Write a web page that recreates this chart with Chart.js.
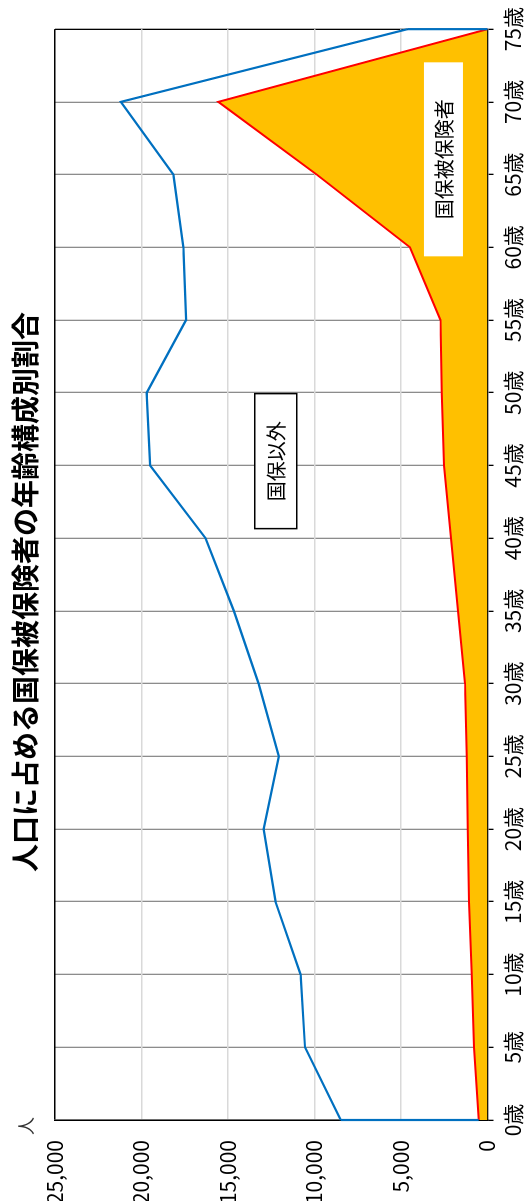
<!DOCTYPE html>
<html lang="ja">
<head>
<meta charset="utf-8">
<title>人口に占める国保被保険者の年齢構成別割合</title>
<script src="https://cdn.jsdelivr.net/npm/chart.js@4.4.1/dist/chart.umd.min.js"></script>
<style>
  html, body { margin: 0; padding: 0; overflow: hidden; background: #fff; }
  /* the chart is laid out landscape, then turned a quarter turn to the left */
  #wrap {
    position: absolute; left: 0; top: 0;
    width: 1201px; height: 526px;
    transform-origin: 0 0;
    transform: translateY(1201px) rotate(-90deg);
  }
</style>
</head>
<body>
<div id="wrap"><canvas id="popChart" width="1201" height="526"></canvas></div>
<script>
const ages = ['0歳', '5歳', '10歳', '15歳', '20歳', '25歳', '30歳', '35歳',
              '40歳', '45歳', '50歳', '55歳', '60歳', '65歳', '70歳', '75歳'];

// 国保被保険者 (orange area, red outline)
const kokuho = [509, 780, 913, 1069, 1145, 1202, 1300, 1700,
                2110, 2514, 2647, 2715, 4480, 9870, 15560, 0];

// top edge of the 国保以外 band (blue line)
const kokuhoIgaiTop = [8485, 10550, 10800, 12250, 12945, 12060, 13230, 14660,
                       16300, 19500, 19700, 17426, 17580, 18160, 21200, 4630];

const yTicks = [0, 5000, 10000, 15000, 20000, 25000];

// in-plot labels: text, position on the age axis (index), position on the value axis
const labelTexts = ['国保以外', '国保被保険者'];
const labelAt = [9.06, 13.21];
const labelValue = [12240, 2546];

const FONT = "'Noto Sans CJK JP', 'Noto Sans', sans-serif";
const BLUE = '#0070C0';

const decor = {
    id: 'decor',
    afterDatasetsDraw(chart) {
        const { ctx, scales: { x, y } } = chart;
        const last = ages.length - 1;

        // the 国保以外 band is outlined at both ends too
        ctx.save();
        ctx.strokeStyle = BLUE;
        ctx.lineWidth = 2.2;
        [0, last].forEach(i => {
            const px = x.getPixelForValue(i);
            ctx.beginPath();
            ctx.moveTo(px, y.getPixelForValue(kokuhoIgaiTop[i]));
            ctx.lineTo(px, y.getPixelForValue(kokuho[i]));
            ctx.stroke();
        });
        ctx.restore();

        // label boxes
        const boxes = [
            { w: 135, h: 42, border: true },
            { w: 194, h: 39, border: false }
        ];
        ctx.save();
        ctx.font = '20px ' + FONT;
        ctx.textAlign = 'center';
        ctx.textBaseline = 'middle';
        labelTexts.forEach((t, i) => {
            const cx = x.getPixelForValue(labelAt[i]);
            const cy = y.getPixelForValue(labelValue[i]);
            const b = boxes[i];
            ctx.fillStyle = '#fff';
            ctx.fillRect(cx - b.w / 2, cy - b.h / 2, b.w, b.h);
            if (b.border) {
                ctx.strokeStyle = '#000';
                ctx.lineWidth = 1.5;
                ctx.strokeRect(cx - b.w / 2, cy - b.h / 2, b.w, b.h);
            }
            ctx.fillStyle = '#000';
            ctx.fillText(t, cx, cy + 1);
        });
        ctx.restore();
    },
    afterDraw(chart) {
        const { ctx } = chart;
        ctx.save();
        ctx.fillStyle = '#000';
        ctx.textAlign = 'center';
        ctx.textBaseline = 'middle';
        ctx.font = 'bold 28px ' + FONT;
        ctx.fillText('人口に占める国保被保険者の年齢構成別割合', 609, 25);
        ctx.fillStyle = '#333';
        ctx.font = '18px ' + FONT;
        ctx.fillText('人', 75, 26);
        ctx.restore();
    }
};

new Chart(document.getElementById('popChart'), {
    type: 'line',
    data: {
        labels: ages,
        datasets: [
            {
                label: '国保被保険者',
                data: kokuho,
                borderColor: '#FF0000',
                backgroundColor: '#FFC000',
                borderWidth: 2,
                fill: 'origin',
                pointRadius: 0,
                tension: 0
            },
            {
                label: '国保以外',
                data: kokuhoIgaiTop,
                borderColor: BLUE,
                borderWidth: 2.2,
                fill: false,
                pointRadius: 0,
                tension: 0
            }
        ]
    },
    options: {
        responsive: false,
        animation: false,
        layout: { padding: { top: 55, right: 28, left: 0, bottom: 0 } },
        plugins: {
            legend: { display: false },
            title: { display: false },
            tooltip: { enabled: false }
        },
        scales: {
            x: {
                offset: false,
                afterFit: s => { s.height = 38.5; },
                grid: {
                    color: c => (c.index === ages.length - 1 ? '#000' : '#8c8c8c'),
                    lineWidth: 1.3,
                    tickColor: '#000',
                    tickLength: 6
                },
                border: { color: '#000', width: 2.2 },
                ticks: {
                    color: '#000',
                    font: { family: FONT, size: 21 },
                    padding: 7,
                    maxRotation: 0,
                    autoSkip: false
                }
            },
            y: {
                min: 0,
                max: 25000,
                afterFit: s => { s.width = 81; },
                afterBuildTicks: s => { s.ticks = yTicks.map(v => ({ value: v })); },
                grid: {
                    color: c => (c.tick && c.tick.value === 25000 ? '#000' : '#d9d9d9'),
                    lineWidth: 1.4,
                    drawTicks: false
                },
                border: { color: '#000', width: 1.5 },
                ticks: {
                    color: '#000',
                    font: { family: FONT, size: 21 },
                    padding: 20,
                    callback: v => v.toLocaleString('en-US')
                }
            }
        }
    },
    plugins: [decor]
});
</script>
</body>
</html>
